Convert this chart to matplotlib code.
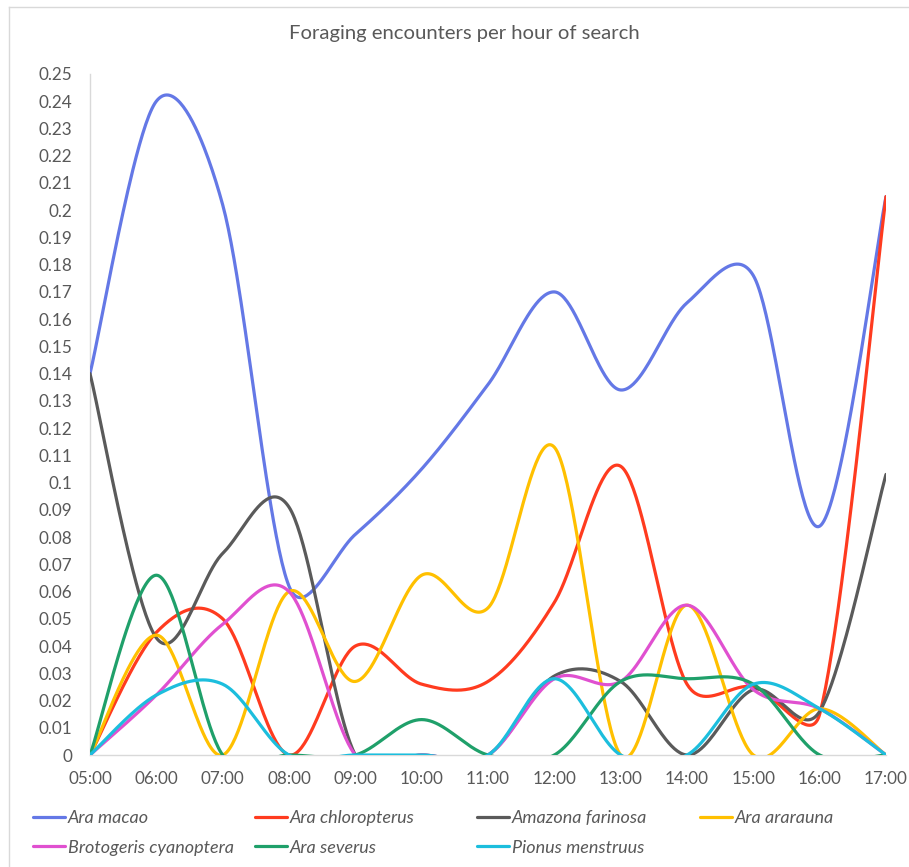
import numpy as np
import matplotlib
matplotlib.use("Agg")
import matplotlib.pyplot as plt
from matplotlib.lines import Line2D

hours = ["05:00", "06:00", "07:00", "08:00", "09:00", "10:00", "11:00",
         "12:00", "13:00", "14:00", "15:00", "16:00", "17:00"]

ara_macao = [0.140, 0.240, 0.202, 0.062, 0.081, 0.105, 0.136, 0.170, 0.134, 0.166, 0.176, 0.084, 0.205]
ara_chloropterus = [0.0, 0.045, 0.050, 0.0, 0.040, 0.026, 0.027, 0.056, 0.106, 0.026, 0.025, 0.015, 0.205]
amazona_farinosa = [0.140, 0.043, 0.074, 0.091, 0.0, 0.0, 0.0, 0.029, 0.027, 0.0, 0.024, 0.016, 0.103]
ara_ararauna = [0.0, 0.044, 0.0, 0.060, 0.027, 0.066, 0.054, 0.113, 0.0, 0.055, 0.0, 0.017, 0.0]
brotogeris_cyanoptera = [0.0, 0.022, 0.048, 0.060, 0.0, 0.0, 0.0, 0.028, 0.027, 0.055, 0.024, 0.017, 0.0]
ara_severus = [0.0, 0.066, 0.0, 0.0, 0.0, 0.013, 0.0, 0.0, 0.027, 0.028, 0.026, 0.0, 0.0]
pionus_menstruus = [0.0, 0.022, 0.026, 0.0, 0.0, 0.0, 0.0, 0.028, 0.0, 0.0, 0.026, 0.017, 0.0]

series_names = ["Ara macao", "Ara chloropterus", "Amazona farinosa", "Ara ararauna",
                "Brotogeris cyanoptera", "Ara severus", "Pionus menstruus"]
series_values = [ara_macao, ara_chloropterus, amazona_farinosa, ara_ararauna,
                 brotogeris_cyanoptera, ara_severus, pionus_menstruus]
colors = ["#6478E6", "#FF3B1F", "#5A5A5A", "#FFC000", "#E050D0", "#1FA06A", "#1CBEDD"]

title = "Foraging encounters per hour of search"

W, H = 909, 867
ax_left, ax_right, ax_top, ax_bottom = 90, 886, 74, 755
YMAX = 0.25


def smooth(xs, ys, sx, sy, n=48):
    """Excel-like smoothed line: cubic Bezier through the points, handle length
    limited to half the chord (computed in screen pixels)."""
    P = np.column_stack([np.asarray(xs, float) * sx, np.asarray(ys, float) * sy])
    m = len(P)
    out = []
    for i in range(m - 1):
        p0 = P[max(i - 1, 0)]
        p1 = P[i]
        p2 = P[i + 1]
        p3 = P[min(i + 2, m - 1)]
        d02 = np.hypot(*(p2 - p0))
        d12 = np.hypot(*(p2 - p1))
        d13 = np.hypot(*(p3 - p1))
        f1 = 1 / 6
        if d02 > 0 and d02 / 6 > d12 / 2:
            f1 = d12 / (2 * d02)
        f2 = 1 / 6
        if d13 > 0 and d13 / 6 > d12 / 2:
            f2 = d12 / (2 * d13)
        c1 = p1 + f1 * (p2 - p0)
        c2 = p2 - f2 * (p3 - p1)
        t = np.linspace(0, 1, n)[:, None]
        seg = ((1 - t) ** 3) * p1 + 3 * ((1 - t) ** 2) * t * c1 + 3 * (1 - t) * t ** 2 * c2 + t ** 3 * p2
        if i > 0:
            seg = seg[1:]
        out.append(seg)
    out = np.vstack(out)
    return out[:, 0] / sx, out[:, 1] / sy


fig = plt.figure(figsize=(W / 100, H / 100), dpi=100)
plt.rcParams['font.family'] = ['Lato', 'DejaVu Sans']

ax = fig.add_axes([ax_left / W, 1 - ax_bottom / H, (ax_right - ax_left) / W, (ax_bottom - ax_top) / H])

x = np.arange(len(hours))
px_per_x = (ax_right - ax_left) / (len(hours) - 1)
px_per_y = (ax_bottom - ax_top) / YMAX
handles = []
for name, vals, col in zip(series_names, series_values, colors):
    cx, cy = smooth(x, vals, px_per_x, px_per_y)
    ln, = ax.plot(cx, cy, color=col, lw=2.3, solid_capstyle='round', label=name)
    handles.append(ln)

ax.set_xlim(0, len(hours) - 1)
ax.set_ylim(0, YMAX)
ax.set_xticks(x)
ax.set_xticklabels(hours)
yt = [i / 100 for i in range(26)]
ax.set_yticks(yt)
ax.set_yticklabels([f"{v:g}" for v in yt])
ax.tick_params(axis='both', length=0, labelsize=12.3, labelcolor="#595959")
ax.tick_params(axis='y', pad=13)
ax.tick_params(axis='x', pad=11.5)
for s in ["top", "right"]:
    ax.spines[s].set_visible(False)
for s in ["left", "bottom"]:
    ax.spines[s].set_color("#D9D9D9")
    ax.spines[s].set_linewidth(1.0)
    ax.spines[s].set_zorder(0.5)

fig.text(464 / W, 1 - 33 / H, title, ha='center', va='center', fontsize=14.6, color="#595959")

# chart border (Excel chart area, cropped on right/bottom)
fig.add_artist(Line2D([8.5 / W, 8.5 / W], [0, 1 - 6.5 / H], color="#D9D9D9", lw=1.0))
fig.add_artist(Line2D([8.5 / W, 1.0], [1 - 6.5 / H, 1 - 6.5 / H], color="#D9D9D9", lw=1.0))

# legend: four evenly spaced columns as in Excel
col_x = [33, 255, 477, 700]
columns = [[0, 4], [1, 5], [2, 6], [3]]
for cxp, idxs in zip(col_x, columns):
    fig.legend([handles[i] for i in idxs], [series_names[i] for i in idxs],
               loc='upper left', bbox_to_anchor=(cxp / W, 1 - 810 / H),
               frameon=False, borderpad=0, borderaxespad=0, handlelength=1.75,
               handletextpad=0.18, labelspacing=0.76,
               prop={'style': 'italic', 'size': 13.0}, labelcolor="#595959")

fig.savefig("out.png", dpi=100, facecolor="white")
